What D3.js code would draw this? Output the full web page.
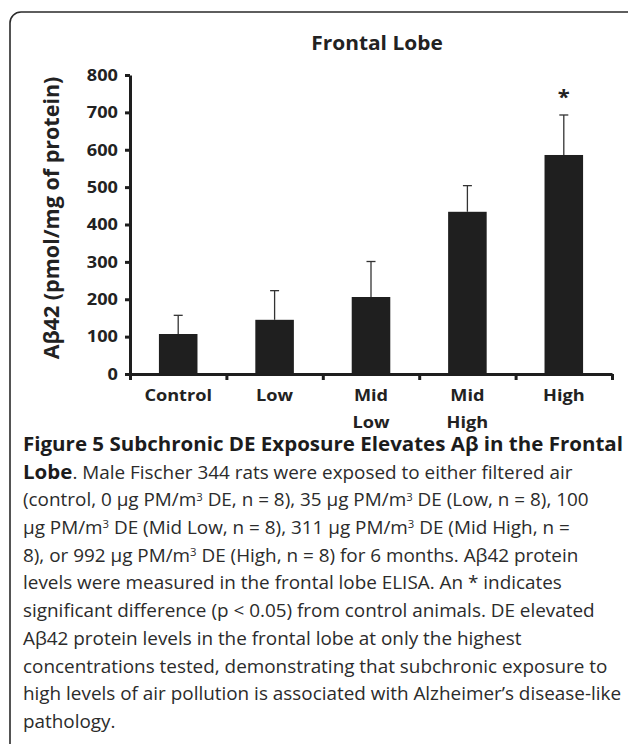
<!DOCTYPE html>
<html>
<head>
<meta charset="utf-8">
<script src="https://cdn.jsdelivr.net/npm/d3@7"></script>
<style>
  body { margin: 0; background: #fff; }
  svg { display: block; }
  .axis path, .axis line { stroke: #1e1e1e; }
</style>
</head>
<body>
<script>
// chart data
const groups = ["Control", "Low", "Mid Low", "Mid High", "High"];
const groupLines = [["Control"], ["Low"], ["Mid", "Low"], ["Mid", "High"], ["High"]];
const means = [107, 145, 206, 434, 586];
const errors = [50, 78, 95, 70, 107];
const starred = [false, false, false, false, true];
const yTicks = [0, 100, 200, 300, 400, 500, 600, 700, 800];

const width = 628, height = 744;
const plot = { left: 130, right: 612, top: 75, bottom: 374 };
const stretch = 1.1; // the figure's lettering is a bit wider than the font

let svg = d3.select("body")
            .append("svg")
            .attr("width", width)
            .attr("height", height);

// rounded frame (right side runs off the picture)
svg.append("rect")
   .attr("x", 10).attr("y", 12)
   .attr("width", 640).attr("height", 800)
   .attr("rx", 11)
   .attr("fill", "none")
   .attr("stroke", "#2a2a2a")
   .attr("stroke-width", 1.6);

let xScale = d3.scaleBand()
               .domain(groups)
               .range([plot.left, plot.right])
               .paddingInner(0.6)
               .paddingOuter(0.3);

// tick marks sit on the borders between groups
let xEdges = d3.scaleLinear()
               .domain([0, groups.length])
               .range([plot.left, plot.right]);

let yScale = d3.scaleLinear()
               .domain([0, 800])
               .range([plot.bottom, plot.top]);

// title
svg.append("text")
   .attr("transform", `translate(377,50) scale(${stretch},1)`)
   .attr("text-anchor", "middle")
   .attr("font-family", "Open Sans")
   .attr("font-weight", "bold")
   .attr("font-size", 19)
   .attr("fill", "#222")
   .text("Frontal Lobe");

// bars
svg.selectAll("rect.bar")
   .data(groups)
   .enter()
   .append("rect")
     .attr("class", "bar")
     .attr("x", (d) => xScale(d))
     .attr("y", (d, i) => yScale(means[i]))
     .attr("width", xScale.bandwidth())
     .attr("height", (d, i) => yScale(0) - yScale(means[i]))
     .attr("fill", "#1f1f1f");

// error bars (upper only)
let err = svg.append("g").attr("stroke", "#333").attr("stroke-width", 1.3);
groups.forEach((g, i) => {
  let cx = xScale(g) + xScale.bandwidth() / 2;
  err.append("line")
     .attr("x1", cx).attr("x2", cx)
     .attr("y1", yScale(means[i])).attr("y2", yScale(means[i] + errors[i]));
  err.append("line")
     .attr("x1", cx - 4.5).attr("x2", cx + 4.5)
     .attr("y1", yScale(means[i] + errors[i])).attr("y2", yScale(means[i] + errors[i]));
  if (starred[i]) {
    svg.append("text")
       .attr("transform", `translate(${cx},${yScale(means[i] + errors[i]) - 11}) scale(${stretch},1)`)
       .attr("text-anchor", "middle")
       .attr("font-family", "Open Sans")
       .attr("font-weight", "bold")
       .attr("font-size", 20)
       .attr("fill", "#222")
       .text("*");
  }
});

// y axis
let yAxis = svg.append("g")
   .attr("class", "axis")
   .attr("transform", `translate(${plot.left},0)`)
   .call(d3.axisLeft(yScale).tickValues(yTicks).tickSize(5).tickSizeOuter(0).tickPadding(6));
yAxis.selectAll("path, line").attr("stroke-width", 3);
yAxis.selectAll("text")
     .attr("transform", `scale(${stretch},1)`)
     .attr("font-family", "Open Sans")
     .attr("font-weight", "bold")
     .attr("font-size", 16.5)
     .attr("fill", "#222");

// x axis
let xAxis = svg.append("g")
   .attr("class", "axis")
   .attr("transform", `translate(0,${plot.bottom})`)
   .call(d3.axisBottom(xEdges).tickValues(d3.range(groups.length + 1)).tickSize(6).tickSizeOuter(0).tickFormat(""));
xAxis.selectAll("path, line").attr("stroke-width", 3);

// category labels
groups.forEach((g, i) => {
  let cx = xScale(g) + xScale.bandwidth() / 2;
  let t = svg.append("text")
     .attr("transform", `translate(${cx},0) scale(${stretch},1)`)
     .attr("text-anchor", "middle")
     .attr("font-family", "Open Sans")
     .attr("font-weight", "bold")
     .attr("font-size", 16.5)
     .attr("fill", "#222");
  groupLines[i].forEach((ln, j) => {
    t.append("tspan")
     .attr("x", 0)
     .attr("y", 401 + j * 27)
     .text(ln);
  });
});

// y label
svg.append("text")
   .attr("transform", "translate(59,218) rotate(-90)")
   .attr("text-anchor", "middle")
   .attr("font-family", "Open Sans")
   .attr("font-weight", "bold")
   .attr("font-size", 21.5)
   .attr("fill", "#222")
   .text("Aβ42 (pmol/mg of protein)");

// caption: each line is a list of [text, style] pieces
const caption = [
  [["Figure 5 Subchronic DE Exposure Elevates Aβ in the Frontal", "b"]],
  [["Lobe", "b"], [". Male Fischer 344 rats were exposed to either filtered air", ""]],
  [["(control, 0 μg PM/m", ""], ["3", "sup"], [" DE, n = 8), 35 μg PM/m", ""], ["3", "sup"], [" DE (Low, n = 8), 100", ""]],
  [["μg PM/m", ""], ["3", "sup"], [" DE (Mid Low, n = 8), 311 μg PM/m", ""], ["3", "sup"], [" DE (Mid High, n =", ""]],
  [["8), or 992 μg PM/m", ""], ["3", "sup"], [" DE (High, n = 8) for 6 months. Aβ42 protein", ""]],
  [["levels were measured in the frontal lobe ELISA. An * indicates", ""]],
  [["significant difference (p < 0.05) from control animals. DE elevated", ""]],
  [["Aβ42 protein levels in the frontal lobe at only the highest", ""]],
  [["concentrations tested, demonstrating that subchronic exposure to", ""]],
  [["high levels of air pollution is associated with Alzheimer’s disease-like", ""]],
  [["pathology.", ""]]
];

let cap = svg.append("g")
   .attr("transform", `translate(23,0) scale(1.08,1)`)
   .attr("font-family", "Open Sans")
   .attr("font-size", 17.5)
   .attr("fill", "#2b2b2b");

caption.forEach((pieces, i) => {
  let t = cap.append("text").attr("x", 0).attr("y", 451 + i * 27.7);
  pieces.forEach(([s, st]) => {
    let sp = t.append("tspan").text(s);
    if (st === "b") sp.attr("font-weight", "bold").attr("font-size", 19).attr("fill", "#1c1c1c");
    if (st === "sup") sp.attr("font-size", 10.5).attr("baseline-shift", "55%");
  });
});
</script>
</body>
</html>
